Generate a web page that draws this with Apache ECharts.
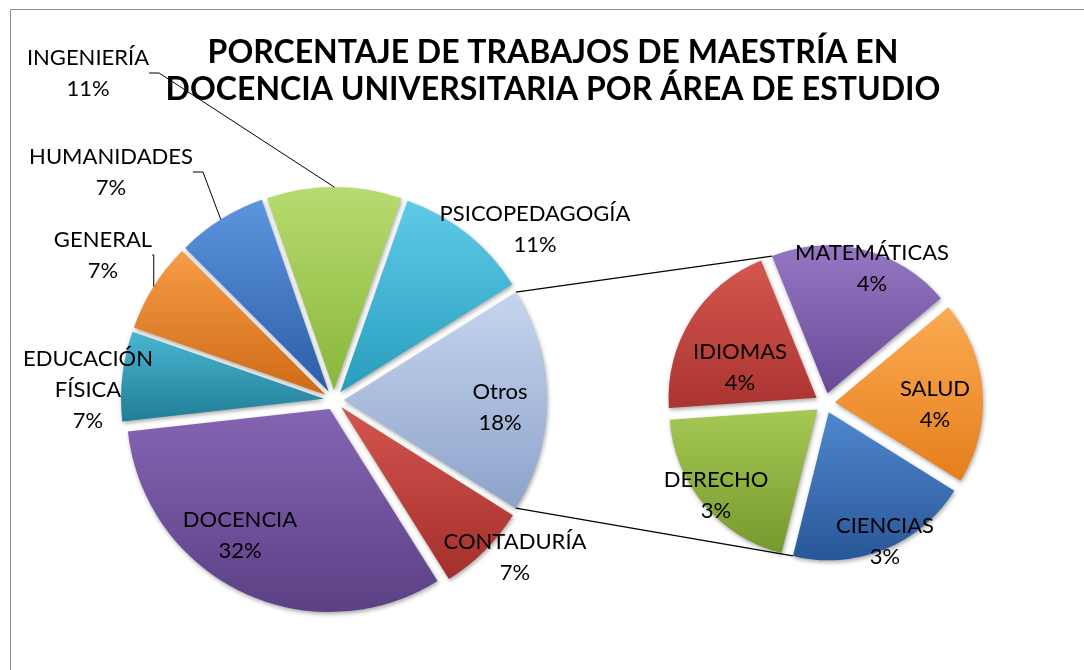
<!DOCTYPE html>
<html>
<head>
<meta charset="utf-8">
<title>Trabajos de maestría por área</title>
<script src="https://cdn.jsdelivr.net/npm/echarts@6/dist/echarts.min.js"></script>
<style>
    html, body { margin: 0; padding: 0; background: #fff; }
    #chart { width: 1084px; height: 670px; }
</style>
</head>
<body>
<div id="chart"></div>
<script>
// datos: número de trabajos por área (el porcentaje es lo que muestra la etiqueta)
var mainNames = ['Otros', 'CONTADURÍA', 'DOCENCIA', 'EDUCACIÓN\nFÍSICA', 'GENERAL', 'HUMANIDADES', 'INGENIERÍA', 'PSICOPEDAGOGÍA'];
var mainCounts = [5, 2, 9, 2, 2, 2, 3, 3];
var mainPct = [18, 7, 32, 7, 7, 7, 11, 11];

var otherNames = ['MATEMÁTICAS', 'SALUD', 'CIENCIAS', 'DERECHO', 'IDIOMAS'];
var otherCounts = [1, 1, 1, 1, 1];
var otherPct = [4, 4, 3, 3, 4];

// colores (claro arriba, oscuro abajo)
var mainColors = [
    ['#c6d5ee', '#8da3cb'], ['#d4554f', '#a32f2b'], ['#8565b3', '#5b4085'], ['#4ab6d1', '#217d97'],
    ['#f69c47', '#cf6a17'], ['#5d95df', '#2c5da6'], ['#b7db6f', '#88b63b'], ['#5fcbe7', '#289dbe']
];
var otherColors = [
    ['#9577c3', '#684996'], ['#fbab52', '#e57e1c'], ['#4f87ce', '#295797'], ['#a6c855', '#76992d'], ['#d5564f', '#aa3431']
];

// posición del centro de cada etiqueta
var mainLabelPos = [[500, 407], [515, 557], [240, 535], [88, 390], [103, 255], [111, 172], [88, 73], [535, 229]];
var otherLabelPos = [[872, 268], [935, 404], [885, 541], [716, 495], [740, 367]];
var withLine = [4, 5, 6];

var chart = echarts.init(document.getElementById('chart'));

function grad(c) {
    return new echarts.graphic.LinearGradient(0, 0, 0, 1, [
        {offset: 0, color: c[0]},
        {offset: 1, color: c[1]}
    ]);
}

// sectores separados (todos "seleccionados" para que se desplacen hacia fuera)
function sliceData(names, counts, colors) {
    return names.map(function (n, i) {
        return {name: n, value: counts[i], selected: true, itemStyle: {color: grad(colors[i])}};
    });
}

// capa transparente que sólo lleva las etiquetas
function labelData(names, counts, pct, lines) {
    return names.map(function (n, i) {
        return {name: n, value: counts[i], pct: pct[i], labelLine: {show: lines.indexOf(i) >= 0}};
    });
}

var labelStyle = {
    show: true,
    position: 'outside',
    color: '#000',
    fontFamily: 'Lato',
    fontSize: 22,
    lineHeight: 31,
    align: 'center',
    formatter: function (p) {
        return p.name + '\n' + p.data.pct + '%';
    }
};

var sliceStyle = {
    shadowBlur: 4,
    shadowColor: 'rgba(0,0,0,0.35)',
    shadowOffsetX: 1,
    shadowOffsetY: 2
};

function layoutFrom(pos) {
    return function (p) {
        var xy = pos[p.dataIndex];
        return {x: xy[0], y: xy[1], align: 'center', verticalAlign: 'middle'};
    };
}

function slices(center, radius, start, data) {
    return {
        type: 'pie',
        center: center,
        radius: radius,
        startAngle: start,
        clockwise: true,
        selectedMode: 'multiple',
        selectedOffset: 10,
        emphasis: {disabled: true},
        itemStyle: sliceStyle,
        label: {show: false},
        labelLine: {show: false},
        data: data
    };
}

function labels(center, radius, start, pos, data) {
    return {
        type: 'pie',
        silent: true,
        z: 5,
        center: center,
        radius: radius,
        startAngle: start,
        clockwise: true,
        avoidLabelOverlap: false,
        emphasis: {disabled: true},
        itemStyle: {color: 'rgba(0,0,0,0)'},
        label: labelStyle,
        labelLine: {length: 10, length2: 10, smooth: false, lineStyle: {color: '#000', width: 1}},
        labelLayout: layoutFrom(pos),
        data: data
    };
}

var option = {
    animation: false,
    title: {
        text: 'PORCENTAJE DE TRABAJOS DE MAESTRÍA EN\nDOCENCIA UNIVERSITARIA POR ÁREA DE ESTUDIO',
        left: 553,
        top: 34,
        padding: 0,
        textAlign: 'center',
        textStyle: {
            fontFamily: 'Lato',
            fontWeight: 'bold',
            fontSize: 32,
            lineHeight: 37,
            color: '#000'
        }
    },
    graphic: [{
        id: 'frame',
        type: 'rect',
        silent: true,
        z: -10,
        shape: {x: 10.5, y: 9.5, width: 1100, height: 700},
        style: {fill: 'none', stroke: '#8c8c8c', lineWidth: 1}
    }],
    series: [
        slices([334, 400], 203, 32.1, sliceData(mainNames, mainCounts, mainColors)),
        slices([825, 403], 148, 112, sliceData(otherNames, otherCounts, otherColors)),
        labels([334, 400], 213, 32.1, mainLabelPos, labelData(mainNames, mainCounts, mainPct, withLine)),
        labels([825, 403], 158, 112, otherLabelPos, labelData(otherNames, otherCounts, otherPct, []))
    ]
};

chart.setOption(option);

// líneas que unen "Otros" con el pastel secundario, a partir del layout de cada sector
function edgePoint(seriesIndex, dataIndex, useEnd) {
    var s = chart.getModel().getSeriesByIndex(seriesIndex);
    var l = s.getData().getItemLayout(dataIndex);
    var off = s.get('selectedOffset');
    var mid = (l.startAngle + l.endAngle) / 2;
    var a = useEnd ? l.endAngle : l.startAngle;
    return [
        l.cx + off * Math.cos(mid) + l.r * Math.cos(a),
        l.cy + off * Math.sin(mid) + l.r * Math.sin(a)
    ];
}

var p1 = edgePoint(0, 0, false);
var p2 = edgePoint(1, 0, false);
var p3 = edgePoint(0, 0, true);
var p4 = edgePoint(1, 2, true);

chart.setOption({
    graphic: [
        {id: 'c1', type: 'line', silent: true, z: -5, shape: {x1: p1[0], y1: p1[1], x2: p2[0], y2: p2[1]}, style: {stroke: '#000', lineWidth: 1.3}},
        {id: 'c2', type: 'line', silent: true, z: -5, shape: {x1: p3[0], y1: p3[1], x2: p4[0], y2: p4[1]}, style: {stroke: '#000', lineWidth: 1.3}}
    ]
});
</script>
</body>
</html>
